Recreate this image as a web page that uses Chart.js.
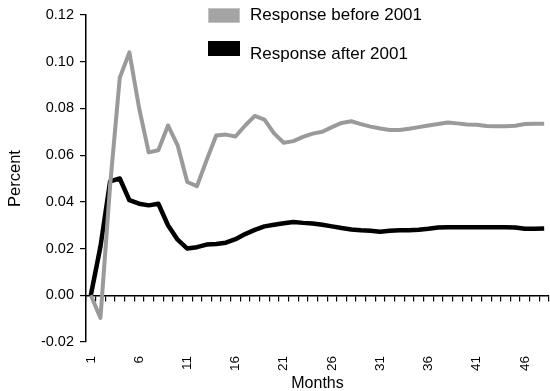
<!DOCTYPE html>
<html lang="en">
<head>
    <meta charset="UTF-8">
    <title>Response before and after 2001</title>
    <style>
        body {
            margin: 0;
            background: #ffffff;
            font-family: 'Liberation Sans', Arial, sans-serif;
        }
        #wrap {
            position: relative;
            width: 550px;
            height: 391px;
        }
        .legendItem {
            position: absolute;
            left: 208px;
            height: 16px;
            font-size: 17px;
            color: #000;
            white-space: nowrap;
        }
        .legendItem .swatch {
            position: absolute;
            left: 0;
            width: 32px;
            height: 15px;
            box-sizing: border-box;
        }
        .legendItem .label {
            position: absolute;
            left: 42px;
            line-height: 16px;
        }
    </style>
</head>
<body>
    <div id="wrap">
        <canvas id="responseChart" width="550" height="391"></canvas>
        <div id="legend"></div>
    </div>
    <script src="https://cdn.jsdelivr.net/npm/chart.js"></script>
    <script>
        // months 1..48
        const months = ['1','2','3','4','5','6','7','8','9','10','11','12','13','14','15','16',
            '17','18','19','20','21','22','23','24','25','26','27','28','29','30','31','32',
            '33','34','35','36','37','38','39','40','41','42','43','44','45','46','47','48'];

        const beforeLabel = 'Response before 2001';
        const beforeValues = [0, -0.0097, 0.047, 0.0931, 0.104, 0.0803, 0.0612, 0.0621,
            0.0727, 0.0642, 0.0485, 0.0467, 0.0578, 0.0684, 0.0688, 0.0680,
            0.0727, 0.0768, 0.0752, 0.0693, 0.0653, 0.0660, 0.0678, 0.0692,
            0.0700, 0.0720, 0.0738, 0.0745, 0.0733, 0.0722, 0.0714, 0.0708,
            0.0708, 0.0713, 0.0720, 0.0727, 0.0733, 0.0740, 0.0736, 0.0731,
            0.0730, 0.0725, 0.0724, 0.0724, 0.0726, 0.0733, 0.0734, 0.0734];

        const afterLabel = 'Response after 2001';
        const afterValues = [0, 0.0209, 0.0488, 0.0500, 0.0407, 0.0392, 0.0385, 0.0392,
            0.0300, 0.0238, 0.0200, 0.0206, 0.0217, 0.0220, 0.0225, 0.0240,
            0.0262, 0.0280, 0.0295, 0.0302, 0.0308, 0.0314, 0.0310, 0.0307,
            0.0302, 0.0295, 0.0288, 0.0282, 0.0278, 0.0276, 0.0272, 0.0276,
            0.0278, 0.0278, 0.0281, 0.0285, 0.0290, 0.0291, 0.0291, 0.0291,
            0.0291, 0.0291, 0.0291, 0.0291, 0.0290, 0.0285, 0.0285, 0.0286];

        const yTickValues = [-0.02, 0, 0.02, 0.04, 0.06, 0.08, 0.10, 0.12];

        const font = "'Liberation Sans', Arial, sans-serif";

        const ctx = document.getElementById('responseChart').getContext('2d');
        const responseChart = new Chart(ctx, {
            type: 'line',
            data: {
                labels: months,
                datasets: [
                    {
                        label: beforeLabel,
                        data: beforeValues,
                        borderColor: '#9a9a9a',
                        backgroundColor: '#a4a4a4',
                        borderWidth: 4,
                        pointRadius: 0,
                        borderJoinStyle: 'round',
                        fill: false
                    },
                    {
                        label: afterLabel,
                        data: afterValues,
                        borderColor: '#000000',
                        backgroundColor: '#000000',
                        borderWidth: 4.5,
                        pointRadius: 0,
                        borderJoinStyle: 'round',
                        fill: false
                    }
                ]
            },
            options: {
                responsive: false,
                animation: false,
                layout: { padding: { top: 15, right: 1, left: 0, bottom: 0 } },
                plugins: {
                    legend: { display: false },
                    tooltip: { enabled: false }
                },
                scales: {
                    x: {
                        type: 'category',
                        position: 'bottom',
                        offset: true,
                        grid: { display: false, drawTicks: false },
                        border: { display: false },
                        ticks: {
                            autoSkip: false,
                            minRotation: 90,
                            maxRotation: 90,
                            padding: 14,
                            color: '#000',
                            font: { family: font, size: 13.5 },
                            callback: function (value, index) {
                                return index % 5 === 0 ? months[index] : '';
                            }
                        },
                        title: {
                            display: true,
                            text: 'Months',
                            color: '#000',
                            font: { family: font, size: 16, lineHeight: 1 },
                            padding: { top: 0, bottom: -1 }
                        },
                        afterFit: function (scale) {
                            scale.height = 49;
                            // labels are vertical, they need no room at the sides
                            scale.paddingLeft = 0;
                            scale.paddingRight = 0;
                        }
                    },
                    // zero line with a tick mark at every month
                    xZero: {
                        type: 'category',
                        position: { y: 0 },
                        offset: true,
                        grid: {
                            offset: true,
                            drawOnChartArea: false,
                            drawTicks: true,
                            tickLength: 5,
                            color: '#000',
                            lineWidth: 1.2
                        },
                        border: { display: true, color: '#000', width: 1.5 },
                        ticks: { display: false }
                    },
                    y: {
                        min: -0.02,
                        max: 0.12,
                        afterBuildTicks: function (scale) {
                            scale.ticks = yTickValues.map(v => ({ value: v }));
                        },
                        grid: {
                            drawOnChartArea: false,
                            drawTicks: true,
                            tickLength: 6,
                            color: '#000',
                            lineWidth: 1.2
                        },
                        border: { display: true, color: '#000', width: 1.5 },
                        ticks: {
                            padding: 6,
                            color: '#000',
                            font: { family: font, size: 14.5 },
                            callback: v => v.toFixed(2)
                        },
                        title: {
                            display: true,
                            text: 'Percent',
                            color: '#000',
                            font: { family: font, size: 16.5, lineHeight: 1 },
                            padding: { top: 7, bottom: 0 }
                        },
                        afterFit: function (scale) { scale.width = 86; }
                    }
                }
            }
        });

        // legend drawn over the plot, built from the datasets
        const legendTops = [8, 41];
        const textTops = [7, 46];
        const legendBox = document.getElementById('legend');
        responseChart.data.datasets.forEach((ds, i) => {
            const item = document.createElement('div');
            item.className = 'legendItem';
            item.style.top = '0px';
            const sw = document.createElement('div');
            sw.className = 'swatch';
            sw.style.top = legendTops[i] + 'px';
            sw.style.background = ds.backgroundColor;
            sw.style.border = i === 0 ? '1px solid #c4c4c4' : '1px solid #000';
            const tx = document.createElement('div');
            tx.className = 'label';
            tx.style.top = textTops[i] + 'px';
            tx.textContent = ds.label;
            item.appendChild(sw);
            item.appendChild(tx);
            legendBox.appendChild(item);
        });
    </script>
</body>
</html>
